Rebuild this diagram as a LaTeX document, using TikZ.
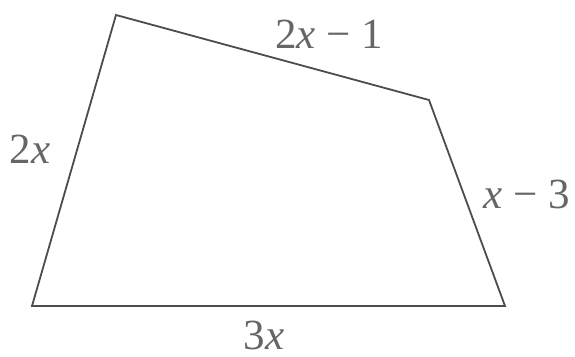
\documentclass[tikz,border=0pt]{standalone}
\usepackage{fontspec}
\newfontfamily\lblfont{Liberation Serif}
\begin{document}
\begin{tikzpicture}[x=1pt,y=-1pt,
  edge/.style={draw=black!70, line width=1.8pt, line join=miter},
  lbl/.style={text=black!60, inner sep=0pt, anchor=base, font=\lblfont\fontsize{43}{48}\selectfont}]
\useasboundingbox (0,0) rectangle (575,356);
\coordinate (A) at (116,15);
\coordinate (B) at (429,100);
\coordinate (C) at (505,306);
\coordinate (D) at (32,306);
\draw[edge] (A) -- (B) -- (C) -- (D) -- cycle;
\node[lbl] (top) at (329,48) {2\textit{x} − 1};
\node[lbl] (left) at (30,163) {2\textit{x}};
\node[lbl] (right) at (527,208) {\textit{x} − 3};
\node[lbl, text depth=0pt] (bottom) at (264,349) {3\textit{x}};
\end{tikzpicture}
\end{document}
